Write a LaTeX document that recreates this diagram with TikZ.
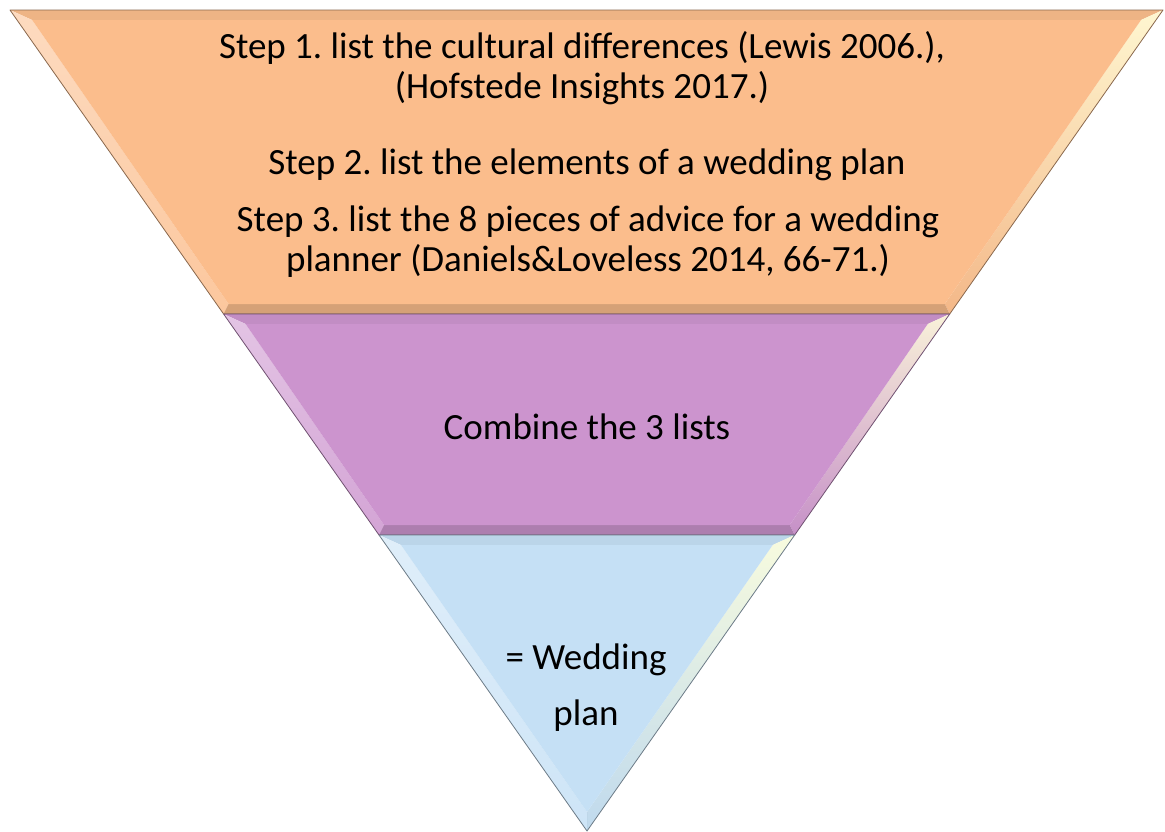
\documentclass[tikz,border=0pt]{standalone}
\usepackage{fontspec}
\setmainfont{Carlito}
\frenchspacing
\definecolor{layerorange}{RGB}{251,189,140}
\definecolor{layerpurple}{RGB}{204,148,206}
\definecolor{layerblue}{RGB}{197,224,245}
\tikzstyle{steptext} = [text=black, align=center, inner sep=0pt,
    font=\fontsize{37}{40}\selectfont]
\tikzstyle{edgeline} = [line width=0.8pt, line join=round]

% bevelled band: prefix of its coordinates, colour
\newcommand{\bevelfaces}[2]{%
  \fill[#2!95!black] (#1o1) -- (#1o2) -- (#1i2) -- (#1i1) -- cycle;
  \shade[top color=#2!55!white, bottom color=#2!85!white]
    (#1o1) -- (#1i1) -- (#1i4) -- (#1o4) -- cycle;
  \shade[top color=#2!50!yellow!25!white, bottom color=#2!97!black]
    (#1o2) -- (#1o3) -- (#1i3) -- (#1i2) -- cycle;
  \fill[#2!85!black] (#1o4) -- (#1i4) -- (#1i3) -- (#1o3) -- cycle;
  \fill[#2] (#1i1) -- (#1i2) -- (#1i3) -- (#1i4) -- cycle;
  \draw[edgeline, #2!55!black] (#1o1) -- (#1o2) -- (#1o3) -- (#1o4) -- cycle;
}

\begin{document}
\begin{tikzpicture}[x=1pt, y=-1pt]
  \fill[white] (0,0) rectangle (1165,831);
  \useasboundingbox (0,0) rectangle (1165,831);

  % top band
  \coordinate (ao1) at (10,10);     \coordinate (ao2) at (1163,10);
  \coordinate (ao3) at (949.7,314); \coordinate (ao4) at (223.6,314);
  \coordinate (ai1) at (32.2,20);   \coordinate (ai2) at (1141.0,20);
  \coordinate (ai3) at (944.8,304); \coordinate (ai4) at (228.6,304);
  % middle band
  \coordinate (bo1) at (223.6,314); \coordinate (bo2) at (949.7,314);
  \coordinate (bo3) at (794.7,535); \coordinate (bo4) at (379.0,535);
  \coordinate (bi1) at (245.6,324); \coordinate (bi2) at (927.7,324);
  \coordinate (bi3) at (789.7,525); \coordinate (bi4) at (384.0,525);
  % bottom tip
  \coordinate (co1) at (379.0,535); \coordinate (co2) at (794.7,535);
  \coordinate (co3) at (587,831);   \coordinate (co4) at (587,831);
  \coordinate (ci1) at (401.0,545); \coordinate (ci2) at (772.7,545);
  \coordinate (ci3) at (587,812);   \coordinate (ci4) at (587,812);

  \bevelfaces{a}{layerorange}
  \bevelfaces{b}{layerpurple}
  \bevelfaces{c}{layerblue}

  \node [steptext] (step1) at (582,68)
    {Step 1. list the cultural differences (Lewis 2006.),\\(Hofstede Insights 2017.)};
  \node [steptext] (step2) at (587,165) {Step 2. list the elements of a wedding plan};
  \node [steptext] (step3) at (588,242)
    {Step 3. list the 8 pieces of advice for a wedding\\planner (Daniels\&Loveless 2014, 66-71.)};
  \node [steptext] (combine) at (587,427) {Combine the 3 lists};
  \node [steptext, font=\fontsize{37}{56}\selectfont] (plan) at (586,688)
    {= Wedding\\plan};
\end{tikzpicture}
\end{document}
